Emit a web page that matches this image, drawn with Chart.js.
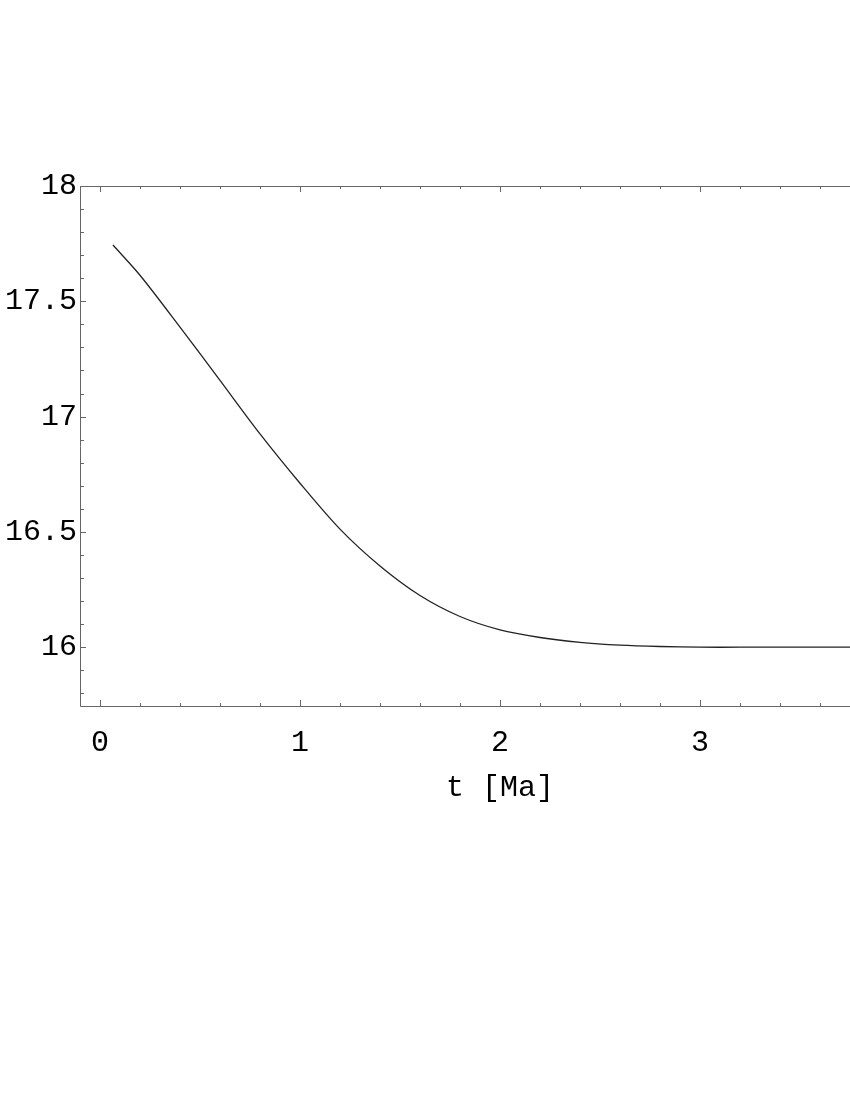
<!DOCTYPE html>
<html>
<head>
<meta charset="utf-8">
<script src="https://cdn.jsdelivr.net/npm/chart.js@4/dist/chart.umd.min.js"></script>
<style>
html, body { margin: 0; padding: 0; background: #fff; }
#wrap { width: 850px; height: 1100px; }
</style>
</head>
<body>
<div id="wrap"><canvas id="myChart"></canvas></div>
<script>
// curve
const tValues = [0.065, 0.2, 0.4, 0.6, 0.8, 1.0, 1.2, 1.4, 1.6, 1.8, 2.0, 2.2, 2.4, 2.6, 2.8, 3.0, 3.2, 3.4, 3.6, 3.75];
const yValues = [17.744, 17.613, 17.388, 17.157, 16.925, 16.711, 16.512, 16.352, 16.224, 16.133, 16.075, 16.042, 16.021, 16.009, 16.003, 16.0, 16.0, 16.0, 16.0, 16.0];

const xMajorTicks = [0, 1, 2, 3];
const xTickLabels = ['0', '1', '2', '3'];
const yMajorTicks = [16, 16.5, 17, 17.5, 18];
const yTickLabels = ['16', '16.5', '17', '17.5', '18'];
const xAxisTitle = 't [Ma]';

const labelFont = { family: '"Liberation Mono", "DejaVu Sans Mono", monospace', size: 30 };

// minor tick positions
const xTickValues = [];
for (let i = 0; i <= 18; i++) xTickValues.push(Math.round(i * 2) / 10);
const yTickValues = [];
for (let i = 158; i <= 180; i++) yTickValues.push(i / 10);

function isIn(list, v) {
    return list.some(m => Math.abs(m - v) < 1e-6);
}

function labelFor(majors, labels, v) {
    for (let i = 0; i < majors.length; i++) {
        if (Math.abs(majors[i] - v) < 1e-6) return labels[i];
    }
    return '';
}

// Mathematica style frame with inward ticks
const framePlugin = {
    id: 'frame',
    afterDatasetsDraw(chart) {
        const ctx = chart.ctx;
        const a = chart.chartArea;
        const x = chart.scales.x;
        const y = chart.scales.y;
        ctx.save();
        ctx.strokeStyle = '#666';
        ctx.lineWidth = 1;
        ctx.beginPath();
        ctx.moveTo(a.left + 0.5, a.top + 0.5);
        ctx.lineTo(a.left + 0.5, a.bottom + 0.5);
        ctx.lineTo(a.right, a.bottom + 0.5);
        ctx.moveTo(a.left + 0.5, a.top + 0.5);
        ctx.lineTo(a.right, a.top + 0.5);
        xTickValues.forEach(v => {
            const px = Math.round(x.getPixelForValue(v)) + 0.5;
            const len = isIn(xMajorTicks, v) ? 6 : 3;
            ctx.moveTo(px, a.bottom);
            ctx.lineTo(px, a.bottom - len);
            ctx.moveTo(px, a.top);
            ctx.lineTo(px, a.top + len);
        });
        yTickValues.forEach(v => {
            const py = Math.round(y.getPixelForValue(v)) + 0.5;
            const len = isIn(yMajorTicks, v) ? 6 : 4;
            ctx.moveTo(a.left, py);
            ctx.lineTo(a.left + len, py);
        });
        ctx.stroke();

        ctx.fillStyle = '#000';
        ctx.font = labelFont.size + 'px ' + labelFont.family;
        ctx.textAlign = 'center';
        ctx.textBaseline = 'middle';
        ctx.fillText(xAxisTitle, x.getPixelForValue(2), a.bottom + 82);
        ctx.restore();
    }
};

const ctx = document.getElementById('myChart').getContext('2d');

const myChart = new Chart(ctx, {
    type: 'line',
    data: {
        datasets: [{
            data: tValues.map((t, i) => ({ x: t, y: yValues[i] })),
            borderColor: '#222',
            borderWidth: 1.3,
            pointRadius: 0,
            tension: 0.3,
            fill: false
        }]
    },
    options: {
        responsive: true,
        maintainAspectRatio: false,
        animation: false,
        devicePixelRatio: 1,
        layout: { padding: { top: 186, right: 0, bottom: 0, left: 0 } },
        plugins: {
            legend: { display: false },
            tooltip: { enabled: false }
        },
        scales: {
            x: {
                type: 'linear',
                min: -0.1,
                max: 3.75,
                afterBuildTicks: scale => {
                    scale.ticks = xMajorTicks.map(v => ({ value: v }));
                },
                afterFit: scale => { scale.height = 394; },
                grid: { display: false, drawTicks: false },
                border: { display: false },
                ticks: {
                    autoSkip: false,
                    maxRotation: 0,
                    padding: 19,
                    color: '#000',
                    font: labelFont,
                    callback: v => labelFor(xMajorTicks, xTickLabels, v)
                }
            },
            y: {
                type: 'linear',
                min: 15.745,
                max: 18,
                afterBuildTicks: scale => {
                    scale.ticks = yMajorTicks.map(v => ({ value: v }));
                },
                afterFit: scale => { scale.width = 80; },
                grid: { display: false, drawTicks: false },
                border: { display: false },
                ticks: {
                    autoSkip: false,
                    padding: 3,
                    color: '#000',
                    font: labelFont,
                    callback: v => labelFor(yMajorTicks, yTickLabels, v)
                }
            }
        }
    },
    plugins: [framePlugin]
});
</script>
</body>
</html>
